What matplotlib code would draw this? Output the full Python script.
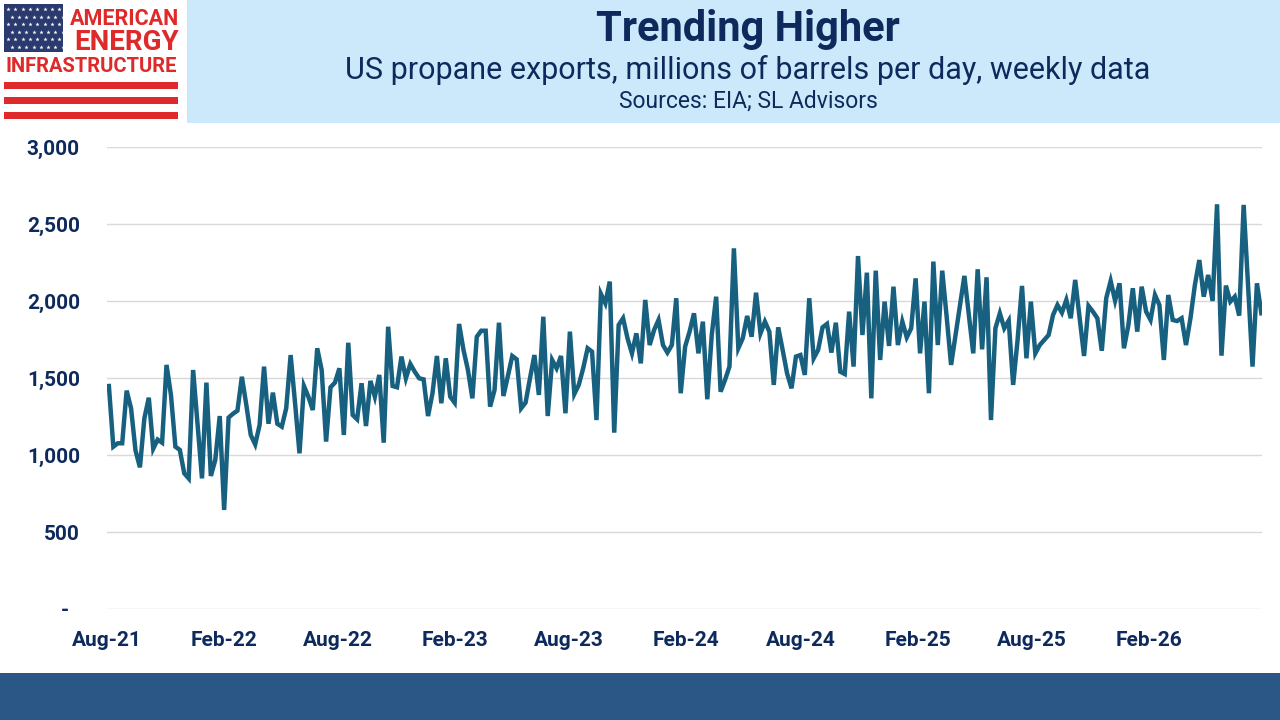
import numpy as np
import pandas as pd
import matplotlib
matplotlib.use("Agg")
import matplotlib.pyplot as plt
import matplotlib.dates as mdates
from matplotlib.patches import Rectangle
from matplotlib.ticker import FuncFormatter

# exportacoes semanais de propano
start_date = "2021-08-04"
propane_exports = [
    1448, 1054, 1076, 1076, 1418, 1303, 1030, 920, 1238, 1372,
    1041, 1100, 1080, 1585, 1390, 1054, 1033, 881, 848, 1552,
    1203, 848, 1470, 864, 968, 1253, 643, 1243, 1268, 1288,
    1508, 1325, 1130, 1069, 1195, 1574, 1203, 1405, 1203, 1184,
    1303, 1649,
    1336, 1011, 1448, 1379, 1292, 1693, 1552, 1087, 1440, 1470,
    1563, 1130, 1729, 1260, 1232, 1466, 1188, 1481, 1379, 1520,
    1080, 1833, 1448, 1440, 1639, 1498, 1591, 1541, 1498, 1491,
    1253, 1401, 1643, 1336, 1628, 1379, 1340, 1851, 1682, 1552,
    1368, 1768, 1807, 1807, 1314, 1422, 1859, 1383, 1511,
    1643, 1621, 1303, 1340, 1498, 1649, 1390, 1898, 1253, 1617,
    1563, 1643, 1271, 1801, 1396, 1455, 1563, 1693, 1671, 1227,
    2046, 1985, 2126, 1145, 1844, 1888, 1758, 1660, 1790, 1595,
    2007, 1714, 1812, 1877, 1714, 1665, 1714, 2018, 1401, 1704,
    1801, 1920, 1660, 1866, 1362, 1779, 2028, 1411,
    1487, 1574, 2342, 1693, 1758, 1903, 1768, 2054, 1790, 1866,
    1801, 1455, 1829, 1682, 1530, 1433, 1639, 1649, 1520, 2018,
    1628, 1682, 1829, 1851, 1665, 1859, 1541, 1526, 1931, 1574,
    2292, 1779, 2184, 1368, 2197, 1617, 1996, 1708, 2093, 1714,
    1866, 1764, 1823, 2147, 1660, 1996, 1401,
    2256, 1714, 2197, 1898, 1585, 1779, 1974, 2163, 1909, 1660,
    2206, 1686, 2154, 1227, 1823, 1920, 1823, 1872, 1455, 1747,
    2098, 1628, 1996, 1660, 1714, 1747, 1779, 1909, 1974, 1924,
    2007, 1888, 2137, 1888, 1643, 1968, 1931, 1888, 1677, 2018,
    2130, 2002, 2115, 1693, 1844, 2083, 1801,
    2093, 1931, 1877, 2039, 1974, 1617, 2039, 1877, 1870, 1888,
    1714, 1888, 2104, 2266, 2028, 2169, 2000, 2628, 1645, 2100,
    1996, 2028, 1905, 2624, 2104, 1574, 2115, 1920,
]
y_ticks = [0, 500, 1000, 1500, 2000, 2500, 3000]
x_tick_dates = ["2021-08-01", "2022-02-01", "2022-08-01", "2023-02-01", "2023-08-01",
                "2024-02-01", "2024-08-01", "2025-02-01", "2025-08-01", "2026-02-01"]

title = "Trending Higher"
subtitle = "US propane exports, millions of barrels per day, weekly data"
sources = "Sources: EIA; SL Advisors"

navy = "#0E2A5C"
line_color = "#17607F"

dates = pd.date_range(start_date, periods=len(propane_exports), freq="7D")

fig = plt.figure(figsize=(12.8, 7.2), dpi=100)

# fundo: cabecalho, logo e rodape em coordenadas de pixel
bg = fig.add_axes([0, 0, 1, 1], zorder=0)
bg.set_xlim(0, 1280)
bg.set_ylim(720, 0)
bg.axis("off")
bg.add_patch(Rectangle((187, 0), 1093, 123, color="#CCE9FB", lw=0))
bg.add_patch(Rectangle((0, 673), 1280, 47, color="#2A5785", lw=0))

# logo
red = "#DE2A2B"
bg.add_patch(Rectangle((4, 4), 59, 48, color="#2B3A6E", lw=0))
for i in range(6):
    for j in range(8):
        bg.plot(8 + j * 7.3 + (i % 2) * 3.6, 9 + i * 7.6, marker="*", ms=3.2,
                color="white", mew=0)
for yy in (82, 97, 112):
    bg.add_patch(Rectangle((4, yy), 174, 7, color=red, lw=0))
bg.text(179, 19, "AMERICAN", color=red, fontsize=15.5, fontweight="bold",
        family="Roboto", ha="right", va="center")
bg.text(179, 43, "ENERGY", color=red, fontsize=20, fontweight="bold",
        family="Roboto", ha="right", va="center")
bg.text(91, 66, "INFRASTRUCTURE", color=red, fontsize=14.5, fontweight="bold",
        family="Roboto", ha="center", va="center")

# titulos
bg.text(748, 29, title, color=navy, fontsize=30, fontweight="bold",
        family="Roboto", ha="center", va="center")
bg.text(748, 70, subtitle, color=navy, fontsize=22, family="Roboto",
        ha="center", va="center")
bg.text(748, 101, sources, color=navy, fontsize=16.5, family="Roboto",
        ha="center", va="center")

# grafico principal
ax = fig.add_axes([107 / 1280, 111 / 720, 1155 / 1280, 462 / 720], zorder=1)
ax.patch.set_alpha(0)
ax.plot(dates, propane_exports, color=line_color, lw=3.2, solid_joinstyle="miter")

ax.set_ylim(0, 3000)
ax.set_yticks(y_ticks)
ax.yaxis.set_major_formatter(FuncFormatter(lambda v, p: "-  " if v == 0 else f"{v:,.0f}"))
ax.set_xlim(pd.Timestamp("2021-08-01"), dates[-1] + pd.Timedelta(days=1))
ax.set_xticks(pd.to_datetime(x_tick_dates))
ax.xaxis.set_major_formatter(mdates.DateFormatter("%b-%y"))

ax.grid(axis="y", color="#D9D9D9", lw=1)
ax.set_axisbelow(True)
for s in ax.spines.values():
    s.set_visible(False)
ax.tick_params(length=0, labelcolor=navy)
ax.tick_params(axis="y", pad=19.5)
ax.tick_params(axis="x", pad=16)
for lab in ax.get_xticklabels() + ax.get_yticklabels():
    lab.set_fontweight("bold")
    lab.set_fontsize(15)
    lab.set_family("Roboto")

fig.savefig("out.png", dpi=100)
